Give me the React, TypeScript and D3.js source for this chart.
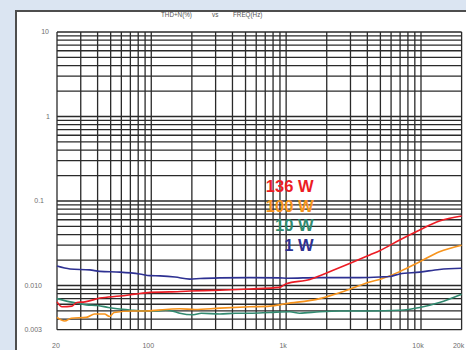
import React from "react";
import * as d3 from "d3";

// frequency (Hz) / THD+N (%) readings per output power
const freq1W = [20, 25, 35, 41.6, 58.6, 82, 98, 116, 150, 193, 230, 322, 538, 897, 1000, 1775, 3510, 4940, 5860, 6950, 9780, 13700, 20000];
const thd1W = [0.017, 0.0157, 0.0153, 0.0147, 0.0144, 0.0137, 0.0131, 0.013, 0.0126, 0.0119, 0.0121, 0.0123, 0.0124, 0.0123, 0.0122, 0.0124, 0.0124, 0.0126, 0.0128, 0.0137, 0.0144, 0.0155, 0.016];

const freq10W = [20, 25, 28, 33, 40, 48, 56, 74, 88, 105, 128, 150, 163, 205, 235, 322, 420, 538, 757, 1064, 1260, 1775, 2500, 4170, 6950, 9780, 13700, 20000];
const thd10W = [0.007, 0.0064, 0.0062, 0.0059, 0.0058, 0.0055, 0.0053, 0.0051, 0.005, 0.005, 0.0051, 0.0049, 0.0047, 0.0045, 0.0047, 0.0046, 0.0047, 0.0047, 0.0048, 0.0049, 0.0047, 0.0049, 0.005, 0.005, 0.0051, 0.0055, 0.0063, 0.0079];

const freq100W = [20, 22.8, 25.5, 33, 38, 45, 49, 53, 73, 93, 128, 163, 210, 322, 538, 757, 1000, 1775, 2720, 4170, 4940, 6950, 9780, 13700, 20000];
const thd100W = [0.0042, 0.0038, 0.0041, 0.0042, 0.0046, 0.0046, 0.0043, 0.0048, 0.005, 0.005, 0.0052, 0.0053, 0.0052, 0.0054, 0.0056, 0.0057, 0.0061, 0.007, 0.0086, 0.011, 0.0118, 0.0146, 0.0191, 0.0251, 0.03];

const freq136W = [20, 21.8, 25.8, 28.1, 32.2, 41.6, 58.6, 75.7, 98, 137, 193, 322, 538, 897, 1000, 1500, 1935, 2720, 4170, 4940, 6950, 9780, 13700, 20000];
const thd136W = [0.0064, 0.0056, 0.0057, 0.0063, 0.0064, 0.0071, 0.0075, 0.0079, 0.0083, 0.0084, 0.0086, 0.0088, 0.0091, 0.0095, 0.0105, 0.0118, 0.0138, 0.0172, 0.023, 0.0258, 0.0346, 0.0454, 0.058, 0.0664];

const legendNames = ["136 W", "100 W", "10 W", "1 W"];
const xTickLabels = ["20", "100", "1k", "10k", "20k"];
const xTickValues = [20, 100, 1000, 10000, 20000];
const yTickLabels = ["10", "1", "0.1", "0.010", "0.003"];
const yTickValues = [10, 1, 0.1, 0.01, 0.003];

const W = 466;
const H = 350;

const colors = {
  w136: "#ec1c24",
  w100: "#f7941d",
  w10: "#318a70",
  w1: "#2e3192",
};

const FONT = "Liberation Sans, Arial, sans-serif";

const App = () => {
  const x = d3.scaleLog().domain([20, 20000]).range([57, 461.6]);
  const y = d3.scaleLog().domain([0.003, 10]).range([329.7, 32]);

  // grid lines, 1-2-..-9 per decade
  const xGrid: number[] = [];
  [10, 100, 1000, 10000].forEach((dec) => {
    for (let k = 1; k < 10; k++) {
      const v = dec * k;
      if (v >= 20 && v <= 20000) xGrid.push(v);
    }
  });
  const yGrid: number[] = [];
  [0.001, 0.01, 0.1, 1].forEach((dec) => {
    for (let k = 1; k < 10; k++) {
      const v = dec * k;
      if (v >= 0.003 - 1e-9) yGrid.push(v);
    }
  });
  yGrid.push(10);

  const mkLine = (fs: number[], vs: number[]) =>
    d3
      .line<number>()
      .x((_, i) => x(fs[i]))
      .y((d) => y(d))
      .curve(d3.curveMonotoneX)(vs) || "";

  const series = [
    { f: freq10W, v: thd10W, c: colors.w10 },
    { f: freq100W, v: thd100W, c: colors.w100 },
    { f: freq1W, v: thd1W, c: colors.w1 },
    { f: freq136W, v: thd136W, c: colors.w136 },
  ];

  const legendColors = [colors.w136, colors.w100, colors.w10, colors.w1];
  const yLabelRight = [49, 50, 44, 42, 42];

  return (
    <div style={{ position: "absolute", left: 0, top: 0 }}>
      <svg width={W} height={H} style={{ display: "block" }}>
        <rect x={0} y={0} width={W} height={H} fill="#dbe5f2" />
        <rect x={16} y={11} width={W} height={H} fill="#ffffff" stroke="#4e4e4e" strokeWidth={2} />

        <text x={161} y={17} fontFamily={FONT} fontSize={6.3} fill="#555555">
          THD+N(%)
          <tspan x={212}>vs</tspan>
          <tspan x={233}>FREQ(Hz)</tspan>
        </text>

        <g stroke="#2a2a2a" strokeWidth={1.3}>
          {xGrid.map((v, i) => (
            <line key={"gx" + i} x1={x(v)} x2={x(v)} y1={y(10)} y2={y(0.003)} />
          ))}
          {yGrid.map((v, i) => (
            <line key={"gy" + i} x1={x(20)} x2={x(20000)} y1={y(v)} y2={y(v)} />
          ))}
        </g>

        {series.map((s, i) => (
          <path key={i} d={mkLine(s.f, s.v)} fill="none" stroke={s.c} strokeWidth={1.6} />
        ))}

        {yTickValues.map((v, i) => (
          <text
            key={"yl" + i}
            x={yLabelRight[i]}
            y={y(v)}
            dy="0.35em"
            textAnchor="end"
            fontFamily={FONT}
            fontSize={7}
            fill="#6e6e6e"
          >
            {yTickLabels[i]}
          </text>
        ))}
        {xTickValues.map((v, i) => (
          <text
            key={"xl" + i}
            x={x(v) - (i === 0 ? 1 : 3)}
            y={348}
            textAnchor="middle"
            fontFamily={FONT}
            fontSize={7}
            fill="#6e6e6e"
          >
            {xTickLabels[i]}
          </text>
        ))}

        {legendNames.map((n, i) => (
          <text
            key={n}
            x={313.5}
            y={192.3 + i * 19.5}
            fill={legendColors[i]}
            fontFamily={FONT}
            fontWeight="bold"
            fontSize={16.5}
            textAnchor="end"
          >
            {n}
          </text>
        ))}
      </svg>
    </div>
  );
};

export default App;
